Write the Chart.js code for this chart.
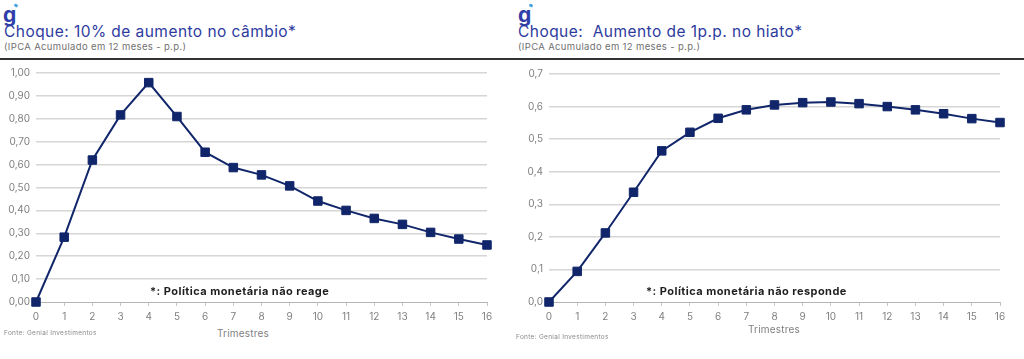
<!DOCTYPE html>
<html>
<head>
<meta charset="utf-8">
<script src="https://cdn.jsdelivr.net/npm/chart.js@4"></script>
<style>
  body { margin: 0; background: #fff; width: 1024px; height: 359px; overflow: hidden; position: relative; font-family: "Inter", sans-serif; }
  .abs { position: absolute; white-space: nowrap; }
  .logo { font-size: 21px; font-weight: 700; color: #2f3ea8; line-height: 1; }
  .logo i { position: absolute; left: 11px; top: 0px; width: 4px; height: 3px; background: #4aa3df; border-radius: 2px; transform: rotate(35deg); }
  .title { font-size: 15.5px; color: #2e3b9e; line-height: 1; letter-spacing: 0.45px; }
  .sub { font-size: 9.5px; color: #707070; line-height: 1; letter-spacing: 0.35px; }
  .rule { position: absolute; left: 0; top: 58px; width: 1024px; height: 2px; background: #333; }
  .note { font-size: 11px; font-weight: 700; color: #1e1e1e; line-height: 1; letter-spacing: 0.45px; }
  .xt { font-size: 10px; color: #7f7f7f; line-height: 1; letter-spacing: 0.2px; }
  .src { font-size: 6.5px; color: #8a8a8a; line-height: 1; letter-spacing: 0.3px; }
</style>
</head>
<body>
<div class="abs logo" style="left:3px;top:4px;">g<i></i></div>
<div class="abs title" style="left:4px;top:24px;">Choque: 10% de aumento no câmbio*</div>
<div class="abs sub" style="left:4px;top:42px;">(IPCA Acumulado em 12 meses - p.p.)</div>

<div class="abs logo" style="left:518px;top:4px;">g<i></i></div>
<div class="abs title" style="left:518px;top:24px;">Choque:&nbsp; Aumento de 1p.p. no hiato*</div>
<div class="abs sub" style="left:518px;top:42px;">(IPCA Acumulado em 12 meses - p.p.)</div>

<div class="rule"></div>

<div class="abs" style="left:0;top:60px;width:505px;height:266px;"><canvas id="c1"></canvas></div>
<div class="abs" style="left:510px;top:60px;width:508px;height:266px;"><canvas id="c2"></canvas></div>

<div class="abs note" style="left:150px;top:286px;">*: Política monetária não reage</div>
<div class="abs note" style="left:646px;top:286px;">*: Política monetária não responde</div>

<div class="abs xt" style="left:217px;top:328px;">Trimestres</div>
<div class="abs xt" style="left:748px;top:324px;">Trimestres</div>

<div class="abs src" style="left:4px;top:330px;">Fonte: Genial Investimentos</div>
<div class="abs src" style="left:516px;top:334px;">Fonte: Genial Investimentos</div>

<script>
// trimestres 0..16
const trimestres = [0,1,2,3,4,5,6,7,8,9,10,11,12,13,14,15,16];
// choque de 10% no cambio
const cambio = [0.00,0.283,0.62,0.817,0.958,0.81,0.654,0.587,0.555,0.507,0.441,0.40,0.365,0.339,0.304,0.275,0.249];
// choque de 1p.p. no hiato
const hiato = [0.00,0.094,0.212,0.337,0.464,0.521,0.564,0.590,0.605,0.612,0.614,0.609,0.600,0.590,0.578,0.563,0.551];

const navy = '#11266a';

let makeChart = function(id, values, ymax, decimals, yWidth, padTop){
  let points = [];
  for(let i=0;i<trimestres.length;i++){
    points.push({x: trimestres[i], y: values[i]});
  }
  return new Chart(document.getElementById(id), {
    type: 'line',
    data: {
      datasets: [{
        data: points,
        borderColor: navy,
        borderWidth: 2,
        backgroundColor: navy,
        pointStyle: 'rect',
        pointRadius: 6,
        pointBorderWidth: 1,
        pointBorderColor: navy,
        tension: 0,
        clip: false
      }]
    },
    options: {
      responsive: true,
      maintainAspectRatio: false,
      animation: false,
      layout: { padding: { top: padTop, right: 18, left: 0, bottom: 0 } },
      plugins: { legend: { display: false }, tooltip: { enabled: false } },
      scales: {
        x: {
          type: 'linear',
          min: 0, max: 16,
          ticks: { stepSize: 1, color: '#7f7f7f', font: { family: 'Inter', size: 10 }, padding: 5, maxRotation: 0 },
          grid: { drawOnChartArea: false, drawTicks: true, tickLength: 4, color: '#c8c8c8' },
          border: { display: true, color: '#b5b5b5', width: 1, dash: [1, 1] },
          afterFit: function(s){ s.height = 24; }
        },
        y: {
          min: 0, max: ymax,
          ticks: {
            stepSize: 0.1, color: '#7f7f7f', font: { family: 'Inter', size: 10 }, padding: 6,
            callback: function(v){ return v.toFixed(decimals).replace('.', ','); }
          },
          grid: {
            drawTicks: false,
            lineWidth: 1.5,
            color: function(ctx){ return ctx.tick && Math.abs(ctx.tick.value) < 1e-9 ? 'rgba(0,0,0,0)' : '#d6d6d6'; }
          },
          border: { display: false },
          afterFit: function(s){ s.width = yWidth; }
        }
      }
    }
  });
}

makeChart('c1', cambio, 1.0, 2, 36, 13);
makeChart('c2', hiato, 0.7, 1, 39, 14);
</script>
</body>
</html>
